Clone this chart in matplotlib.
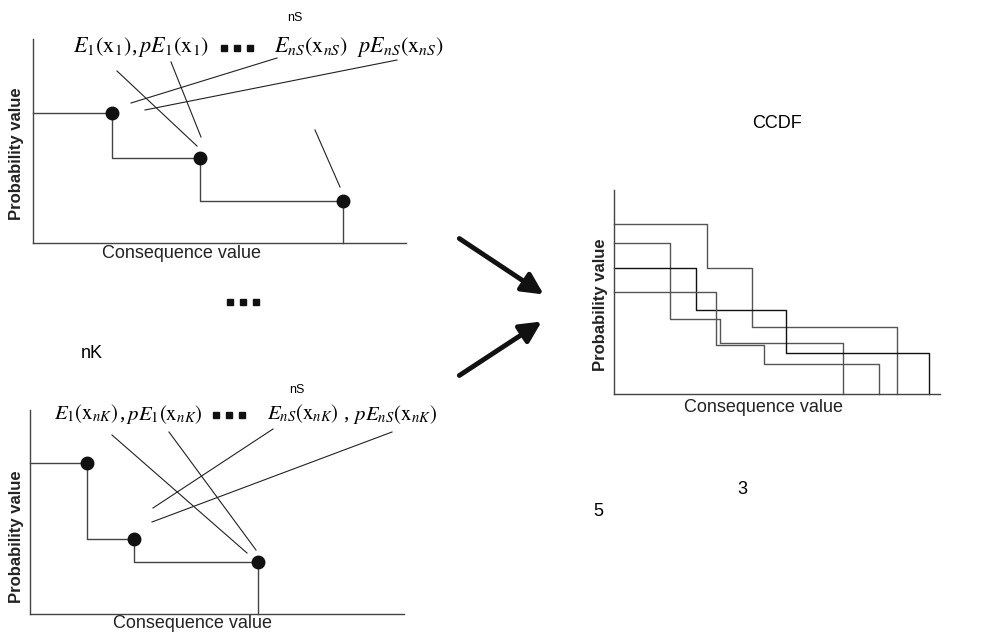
import matplotlib.pyplot as plt

plt.rcParams['font.family'] = ['Liberation Sans', 'DejaVu Sans']
plt.rcParams['mathtext.fontset'] = 'stix'

W, H = 988, 634

# step curves, consequence / probability given in % of each small panel
top_cons = [0, 21.2, 44.8, 83.1]
top_prob = [63.7, 41.7, 20.6, 0]

bot_cons = [0, 15.2, 27.8, 61.0]
bot_prob = [74.0, 36.8, 25.5, 0]

ccdf_cons = [
    [0, 28.5, 42.3, 86.8],
    [0, 17.2, 32.5, 70.2],
    [0, 25.2, 52.8, 96.6],
    [0, 31.3, 46.0, 81.3],
]
ccdf_prob = [
    [83.3, 61.8, 32.8, 0],
    [74.0, 36.8, 25.0, 0],
    [61.8, 41.2, 20.1, 0],
    [50.0, 24.0, 14.7, 0],
]
ccdf_col = ['#555555', '#555555', '#111111', '#555555']

# formula pieces above the panels (label, left edge)
top_terms = [
    (r'$E_1(\mathrm{x}_1)$', 73),
    (r'$pE_1(\mathrm{x}_1)$', 138),
    (r'$E_{nS}(\mathrm{x}_{nS})$', 274),
    (r'$pE_{nS}(\mathrm{x}_{nS})$', 357),
]
top_commas = [131]
bot_terms = [
    (r'$E_1(\mathrm{x}_{nK})$', 54),
    (r'$pE_1(\mathrm{x}_{nK})$', 126),
    (r'$E_{nS}(\mathrm{x}_{nK})$', 267),
    (r'$pE_{nS}(\mathrm{x}_{nK})$', 353),
]
bot_commas = [119, 343]

# leader lines from formula terms to points (figure pixels)
top_leaders = [((117, 71), (197, 146)), ((171, 62), (201, 137)),
               ((277, 58), (131, 103)), ((397, 60), (145, 110)),
               ((315, 130), (340, 187))]
bot_leaders = [((112, 435), (247, 553)), ((169, 432), (256, 550)),
               ((273, 429), (153, 508)), ((392, 432), (152, 522))]

# "..." separators: centre of each group
ellipses = [(237, 48), (229, 415), (243, 302)]

fig = plt.figure(figsize=(W / 100, H / 100), dpi=100)
ov = fig.add_axes([0, 0, 1, 1])
ov.set_xlim(0, W)
ov.set_ylim(H, 0)
ov.axis('off')


def panel(left, right, top, bottom):
    a = fig.add_axes([left / W, 1 - bottom / H, (right - left) / W, (bottom - top) / H])
    a.set_facecolor('none')
    a.set_xlim(0, 100)
    a.set_ylim(0, 100)
    for s in ['top', 'right']:
        a.spines[s].set_visible(False)
    for s in ['left', 'bottom']:
        a.spines[s].set_color('#444444')
        a.spines[s].set_linewidth(1.0)
    a.set_xticks([])
    a.set_yticks([])
    return a


ax1 = panel(33, 406, 39, 243)
ax1.step(top_cons, top_prob, where='post', color='#444444', lw=1.0, clip_on=False)
ax1.plot(top_cons[1:], top_prob[:-1], 'o', color='#111111', ms=9, clip_on=False)

ax2 = panel(30, 404, 410, 614)
ax2.step(bot_cons, bot_prob, where='post', color='#444444', lw=1.0, clip_on=False)
ax2.plot(bot_cons[1:], bot_prob[:-1], 'o', color='#111111', ms=9, clip_on=False)

ax3 = panel(614, 940, 190, 394)
for xs, ys, c in zip(ccdf_cons, ccdf_prob, ccdf_col):
    ax3.step(xs, ys, where='post', color=c, lw=1.0, clip_on=False)

for (x0, y0), (x1, y1) in top_leaders + bot_leaders:
    ov.plot([x0, x1], [y0, y1], color='#222222', lw=0.8)

for txt, x in top_terms:
    ov.text(x, 47, txt, fontsize=16, ha='left', va='center')
for x in top_commas:
    ov.text(x, 47, ',', fontsize=16, ha='left', va='center', family='Liberation Serif')
for txt, x in bot_terms:
    ov.text(x, 414, txt, fontsize=15, ha='left', va='center')
for x in bot_commas:
    ov.text(x, 414, ',', fontsize=15, ha='left', va='center', family='Liberation Serif')

for cx, cy in ellipses:
    ov.plot([cx - 13, cx, cx + 13], [cy, cy, cy], 's', color='#111111', ms=4)

ov.text(295, 18, 'nS', fontsize=9, ha='center', va='center')
ov.text(297, 390, 'nS', fontsize=9, ha='center', va='center')
ov.text(92, 353, 'nK', fontsize=13, ha='center', va='center')
ov.text(777, 123, 'CCDF', fontsize=13, ha='center', va='center')
ov.text(742, 490, '3', fontsize=13, ha='center', va='center')
ov.text(598, 512, '5', fontsize=13, ha='center', va='center')

for x, y in [(17, 154), (17, 537), (600, 305)]:
    ov.text(x, y, 'Probability value', fontsize=12, fontweight='bold',
            rotation=90, ha='center', va='center', color='#222222')
for x, y in [(181, 253), (192, 624), (763, 407)]:
    ov.text(x, y, 'Consequence value', fontsize=13, ha='center', va='center',
            color='#222222')

arrow = dict(arrowstyle='-|>', lw=3.5, color='#111111', mutation_scale=32)
ov.annotate('', xy=(546, 296), xytext=(457, 237), arrowprops=arrow)
ov.annotate('', xy=(544, 320), xytext=(457, 377), arrowprops=arrow)

fig.savefig('out.png', dpi=100)
